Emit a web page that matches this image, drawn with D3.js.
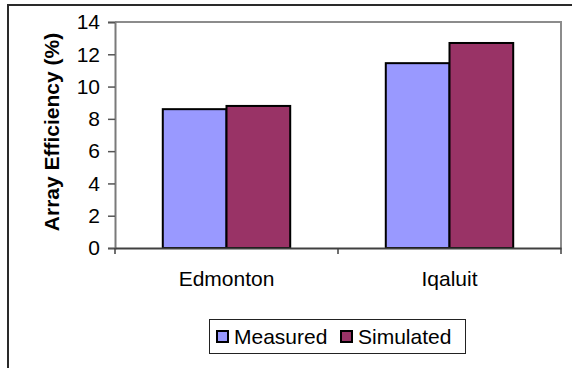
<!DOCTYPE html>
<html>
<head>
<meta charset="utf-8">
<script src="https://cdn.jsdelivr.net/npm/d3@7"></script>
<style>
  html, body { margin: 0; padding: 0; background: #fff; }
  svg { display: block; font-family: "Liberation Sans", Arial, sans-serif; }
</style>
</head>
<body>
<svg id="chart" width="572" height="368"></svg>
<script>
const categories = ["Edmonton", "Iqaluit"];
const seriesNames = ["Measured", "Simulated"];
const measured = [8.6, 11.45];
const simulated = [8.8, 12.7];
const yTicks = [0, 2, 4, 6, 8, 10, 12, 14];
const colors = ["#9999FF", "#993366"];

const svg = d3.select("#chart");
const plot = { left: 115, right: 561, top: 22, bottom: 248 };

// outer chart frame (cropped at right and bottom)
svg.append("rect").attr("x", 8).attr("y", 5).attr("width", 700).attr("height", 500)
  .attr("fill", "none").attr("stroke", "#2a2a2a").attr("stroke-width", 2);

const x = d3.scaleBand().domain(categories).range([plot.left, plot.right]).paddingInner(0).paddingOuter(0);
const y = d3.scaleLinear().domain([0, 14]).range([plot.bottom, plot.top]);
// Excel gap width 150%: band = 2w + 1.5w
const barW = x.bandwidth() / 3.5;
const xs = d3.scaleBand().domain(seriesNames).range([0, 2 * barW]);

// plot area border (top/right grey)
svg.append("path")
  .attr("d", `M${plot.left},${plot.top}H${plot.right}V${plot.bottom}`)
  .attr("fill", "none").attr("stroke", "#8c8c8c").attr("stroke-width", 2);

// bars
const data = categories.map((c, i) => ({ cat: c, vals: [measured[i], simulated[i]] }));
const g = svg.append("g");
data.forEach(d => {
  d.vals.forEach((v, j) => {
    g.append("rect")
      .attr("x", x(d.cat) + x.bandwidth() / 2 - barW + xs(seriesNames[j]))
      .attr("y", y(v))
      .attr("width", barW)
      .attr("height", y(0) - y(v))
      .attr("fill", colors[j])
      .attr("stroke", "#000").attr("stroke-width", 2);
  });
});

// y axis
const yAxis = d3.axisLeft(y).tickValues(yTicks).tickSize(7).tickPadding(8);
const ya = svg.append("g").attr("transform", `translate(${plot.left},0)`).call(yAxis);
ya.select(".domain").attr("stroke", "#7a7a7a").attr("stroke-width", 2);
ya.selectAll(".tick line").attr("stroke", "#555").attr("stroke-width", 1.5);
ya.selectAll(".tick text").attr("font-size", 21).attr("fill", "#000")
  .attr("font-family", "'Liberation Sans', Arial, sans-serif");

// x axis
const xa = svg.append("g").attr("transform", `translate(0,${plot.bottom})`)
  .call(d3.axisBottom(x).tickSize(0).tickPadding(23));
xa.select(".domain").attr("stroke", "#404040").attr("stroke-width", 2);
xa.selectAll(".tick text").attr("font-size", 21).attr("fill", "#000")
  .attr("font-family", "'Liberation Sans', Arial, sans-serif");
// boundary tick marks between categories
const bounds = [plot.left, x(categories[1]), plot.right];
svg.append("g").selectAll("line").data(bounds).join("line")
  .attr("x1", d => d).attr("x2", d => d)
  .attr("y1", plot.bottom).attr("y2", plot.bottom + 6)
  .attr("stroke", "#404040").attr("stroke-width", 1.5);

// y title
svg.append("text")
  .attr("transform", `translate(59,132) rotate(-90)`)
  .attr("text-anchor", "middle")
  .attr("font-size", 21).attr("font-weight", "bold")
  .text("Array Efficiency (%)");

// legend
const leg = svg.append("g");
leg.append("rect").attr("x", 209.5).attr("y", 319.5).attr("width", 256).attr("height", 34)
  .attr("fill", "#fff").attr("stroke", "#222").attr("stroke-width", 1);
const legX = [216, 340];
seriesNames.forEach((s, j) => {
  leg.append("rect").attr("x", legX[j] + 1).attr("y", 331).attr("width", 11).attr("height", 11)
    .attr("fill", colors[j]).attr("stroke", "#000").attr("stroke-width", 2);
  leg.append("text").attr("x", legX[j] + 18).attr("y", 344)
    .attr("font-size", 21).text(s);
});
</script>
</body>
</html>
